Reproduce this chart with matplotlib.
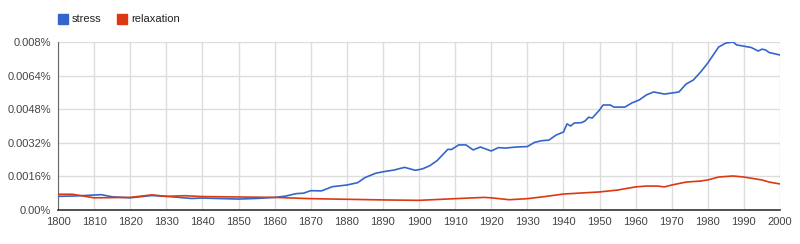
import matplotlib.pyplot as plt
from matplotlib.patches import Rectangle

plt.rcParams['font.family'] = ['Liberation Sans', 'DejaVu Sans']

# values in percent
stress_years = [1800, 1805, 1812, 1815, 1820, 1826, 1830, 1837, 1840, 1850, 1855, 1860,
                1863, 1866, 1868, 1870, 1873, 1876, 1880, 1883, 1885, 1888, 1890, 1893,
                1896, 1899, 1901, 1903, 1905, 1908, 1909, 1911, 1913, 1915, 1917, 1920,
                1922, 1924, 1927, 1930, 1932, 1934, 1936, 1938, 1940, 1941, 1942, 1943,
                1945, 1946, 1947, 1948, 1950, 1951, 1953, 1954, 1957, 1959, 1961, 1963,
                1965, 1968, 1970, 1972, 1974, 1976, 1978, 1980, 1983, 1985, 1987, 1988,
                1990, 1992, 1994, 1995, 1996, 1997, 2000]
stress = [0.00065, 0.00067, 0.00073, 0.00063, 0.00058, 0.00069, 0.00065, 0.00055, 0.00057,
          0.00052, 0.00055, 0.00060, 0.00066, 0.00078, 0.00080, 0.00092, 0.00091, 0.00111,
          0.00119, 0.00130, 0.00154, 0.00175, 0.00182, 0.00190, 0.00203, 0.00189, 0.00196,
          0.00211, 0.00235, 0.00289, 0.00288, 0.00310, 0.00310, 0.00286, 0.00300, 0.00281,
          0.00297, 0.00295, 0.00300, 0.00302, 0.00322, 0.00330, 0.00333, 0.00357, 0.00371,
          0.00410, 0.00400, 0.00414, 0.00416, 0.00424, 0.00442, 0.00438, 0.00476, 0.00500,
          0.00500, 0.00490, 0.00490, 0.00510, 0.00524, 0.00548, 0.00562, 0.00552, 0.00557,
          0.00562, 0.00600, 0.00619, 0.00657, 0.00700, 0.00776, 0.00795, 0.00800, 0.00786,
          0.00780, 0.00774, 0.00757, 0.00766, 0.00762, 0.00750, 0.00738]

relax_years = [1800, 1804, 1810, 1820, 1826, 1830, 1835, 1840, 1850, 1860, 1870, 1880,
               1890, 1900, 1910, 1918, 1920, 1925, 1930, 1934, 1940, 1945, 1950, 1955,
               1960, 1963, 1966, 1968, 1970, 1974, 1978, 1980, 1983, 1987, 1990, 1995,
               1997, 2000]
relax = [0.00075, 0.00075, 0.00058, 0.00060, 0.00072, 0.00065, 0.00068, 0.00064, 0.00062,
         0.00060, 0.00054, 0.00051, 0.00048, 0.00046, 0.00054, 0.00060, 0.00058, 0.00049,
         0.00054, 0.00062, 0.00076, 0.00081, 0.00086, 0.00095, 0.00110, 0.00114, 0.00114,
         0.00110, 0.00119, 0.00133, 0.00138, 0.00143, 0.00157, 0.00162, 0.00157, 0.00143,
         0.00133, 0.00124]

fig = plt.figure(figsize=(8, 2.44), dpi=100)
ax = fig.add_axes([58 / 800, 1 - 210 / 244, 722 / 800, 168 / 244])

ax.plot(stress_years, stress, color='#3366cc', lw=1.2, zorder=3)
ax.plot(relax_years, relax, color='#dc3912', lw=1.2, zorder=3)

ax.set_xlim(1800, 2000)
ax.set_ylim(0, 0.008)
ax.set_xticks(range(1800, 2001, 10))
yt = [0, 0.0016, 0.0032, 0.0048, 0.0064, 0.008]
ax.set_yticks(yt)
ax.set_yticklabels(['0.00%', '0.0016%', '0.0032%', '0.0048%', '0.0064%', '0.008%'])
ax.grid(True, color='#dddddd', lw=1)
ax.set_axisbelow(True)
ax.tick_params(length=0, labelsize=8, colors='#444444', pad=5)
for s in ['top', 'right']:
    ax.spines[s].set_visible(False)
ax.spines['left'].set_color('#666666')
ax.spines['bottom'].set_color('#333333')
ax.spines['bottom'].set_linewidth(1.2)

# legend
fig.patches.append(Rectangle((58 / 800, 1 - 24 / 244), 10 / 800, 10 / 244,
                             transform=fig.transFigure, color='#3366cc'))
fig.text(72 / 800, 1 - 19 / 244, 'stress', fontsize=8, color='#222222', va='center')
fig.patches.append(Rectangle((117 / 800, 1 - 24 / 244), 10 / 800, 10 / 244,
                             transform=fig.transFigure, color='#dc3912'))
fig.text(131 / 800, 1 - 19 / 244, 'relaxation', fontsize=8, color='#222222', va='center')

fig.savefig('out.png', dpi=100)
